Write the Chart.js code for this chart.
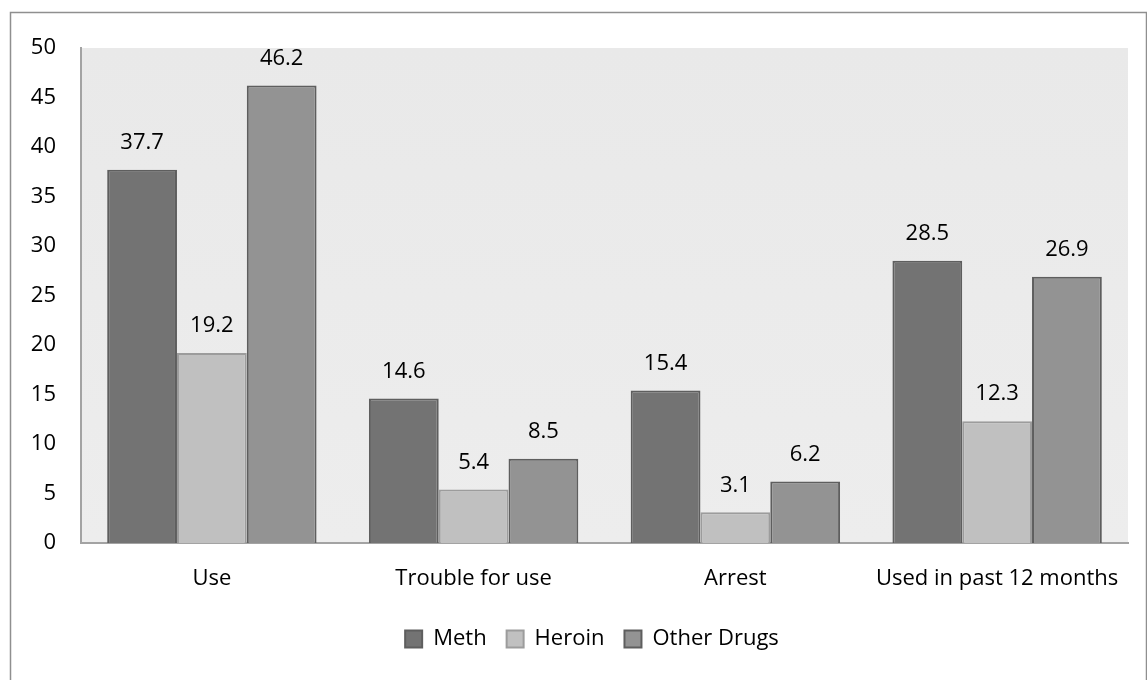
<!DOCTYPE html>
<html>
<head>
<meta charset="utf-8">
<script src="https://cdn.jsdelivr.net/npm/chart.js@4.4.1/dist/chart.umd.min.js"></script>
<style>
    html, body { margin: 0; padding: 0; background: #ffffff; }
</style>
</head>
<body>
<canvas id="Chart_Drugs" width="1147" height="680"></canvas>
<script>
// Số liệu cho chart
const categories = ['Use', 'Trouble for use', 'Arrest', 'Used in past 12 months'];
const meth = [37.7, 14.6, 15.4, 28.5];
const heroin = [19.2, 5.4, 3.1, 12.3];
const otherDrugs = [46.2, 8.5, 6.2, 26.9];
const yMin = 0;
const yMax = 50;
const yStep = 5;

const textFont = { family: '"Open Sans", sans-serif', size: 22 };

// khung ngoài + nền xám của vùng vẽ
const framePlugin = {
    id: 'frame_background',
    afterLayout: (chart) => {
        // dời legend sang phải một chút
        chart.legend.left += 28;
        chart.legend.right += 28;
    },
    beforeDraw: (chart) => {
        const ctx = chart.ctx;
        const area = chart.chartArea;
        ctx.save();
        ctx.fillStyle = '#ffffff';
        ctx.fillRect(0, 0, chart.width, chart.height);
        ctx.strokeStyle = '#8f8f8f';
        ctx.lineWidth = 1.5;
        ctx.strokeRect(10.5, 12.5, chart.width - 11, chart.height + 10);
        const grad = ctx.createLinearGradient(0, area.top, 0, area.bottom);
        grad.addColorStop(0, '#e9e9e9');
        grad.addColorStop(1, '#ededed');
        ctx.fillStyle = grad;
        ctx.fillRect(area.left, area.top, area.right - area.left, area.bottom - area.top);
        ctx.restore();
    }
};

// ghi giá trị trên đầu mỗi cột
const valueLabelPlugin = {
    id: 'value_labels',
    afterDatasetsDraw: (chart) => {
        const ctx = chart.ctx;
        ctx.save();
        ctx.font = textFont.size + 'px ' + textFont.family;
        ctx.fillStyle = '#000000';
        ctx.textAlign = 'center';
        ctx.textBaseline = 'bottom';
        chart.data.datasets.forEach(function (ds, i) {
            chart.getDatasetMeta(i).data.forEach(function (bar, j) {
                ctx.fillText(ds.data[j].toFixed(1), bar.x, bar.y - 16);
            });
        });
        ctx.restore();
    }
};

const ctx1 = document.getElementById('Chart_Drugs');
const Chart_Drugs = new Chart(ctx1, {
    type: 'bar',
    data: {
        labels: categories,
        datasets: [{
            label: 'Meth',
            data: meth,
            backgroundColor: '#737373',
            borderColor: '#5e5e5e',
            borderWidth: 2
        }, {
            label: 'Heroin',
            data: heroin,
            backgroundColor: '#c0c0c0',
            borderColor: '#9c9c9c',
            borderWidth: 2
        }, {
            label: 'Other Drugs',
            data: otherDrugs,
            backgroundColor: '#939393',
            borderColor: '#5e5e5e',
            borderWidth: 2
        }]
    },
    options: {
        responsive: false,
        animation: false,
        devicePixelRatio: 1,
        datasets: {
            bar: {
                categoryPercentage: 0.8,
                barPercentage: 1.0
            }
        },
        layout: {
            padding: {
                left: 0,
                right: 19,
                top: 48,
                bottom: 20
            }
        },
        plugins: {
            tooltip: { enabled: false },
            legend: {
                position: 'bottom',
                labels: {
                    color: '#000000',
                    font: textFont,
                    boxWidth: 17,
                    boxHeight: 17,
                    padding: 20
                }
            }
        },
        scales: {
            x: {
                grid: { display: false, drawTicks: false },
                border: { display: true, color: '#a3a3a3', width: 2 },
                ticks: {
                    color: '#000000',
                    font: textFont,
                    padding: 23,
                    maxRotation: 0,
                    autoSkip: false
                },
                afterFit: (scale) => { scale.height = 65; }
            },
            y: {
                min: yMin,
                max: yMax,
                grid: { display: false, drawTicks: false },
                border: { display: true, color: '#a3a3a3', width: 2 },
                ticks: {
                    stepSize: yStep,
                    color: '#000000',
                    font: textFont,
                    padding: 25
                },
                afterFit: (scale) => { scale.width = 81; }
            }
        }
    },
    plugins: [framePlugin, valueLabelPlugin]
});
</script>
</body>
</html>
